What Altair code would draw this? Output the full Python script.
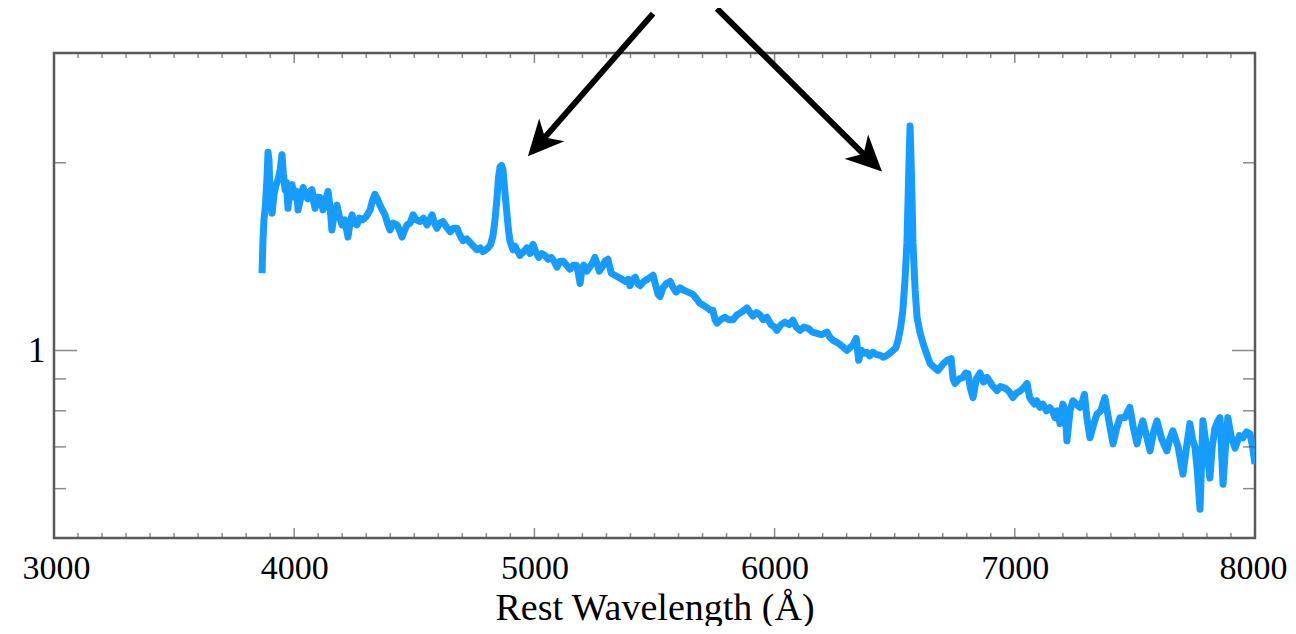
import altair as alt
import pandas as pd

# ---- spectrum (rest wavelength in Angstrom, normalised flux) ----
wavelength = [
    3866, 3870, 3874, 3880, 3887, 3891, 3895, 3899, 3908, 3916, 3924, 3933, 3942, 3949, 3955, 3962,
    3968, 3974, 3982, 3991, 3997, 4003, 4010, 4016, 4025, 4037, 4045, 4057, 4066, 4074, 4080, 4087,
    4096, 4107, 4114, 4120, 4130, 4141, 4149, 4157, 4166, 4178, 4188, 4199, 4210, 4224, 4232, 4241,
    4250, 4261, 4272, 4286, 4300, 4316, 4326, 4336, 4346, 4357, 4367, 4378, 4388, 4399, 4412, 4428,
    4438, 4449, 4460, 4470, 4482, 4495, 4508, 4524, 4538, 4553, 4563, 4574, 4584, 4594, 4606, 4619,
    4633, 4649, 4663, 4678, 4690, 4703, 4718, 4732, 4746, 4761, 4774, 4786, 4797, 4807, 4818, 4828,
    4836, 4844, 4851, 4857, 4863, 4869, 4877, 4886, 4892, 4898, 4905, 4911, 4919, 4927,
    4940, 4955, 4969, 4982, 4994, 5005, 5018, 5030, 5044, 5057, 5070, 5082, 5094, 5107, 5120, 5134,
    5148, 5162, 5175, 5183, 5190, 5197, 5205, 5218, 5230, 5241, 5252, 5260, 5270, 5282, 5294, 5306,
    5320, 5335, 5350, 5365, 5380, 5390, 5398, 5410, 5420, 5430, 5440, 5455, 5470, 5482, 5494, 5505,
    5515, 5523, 5535, 5550, 5565, 5578, 5590, 5606, 5620, 5640, 5660, 5675, 5689, 5705, 5720, 5732,
    5743, 5752, 5760, 5775, 5793, 5810, 5827, 5843, 5860, 5873, 5885, 5898, 5910, 5925, 5939, 5952,
    5968, 5985, 6000, 6010, 6027, 6043, 6060, 6076, 6090, 6106, 6122, 6140, 6158, 6176, 6195, 6218,
    6230, 6243, 6260, 6275, 6288, 6301, 6314, 6326, 6340, 6350, 6362, 6373, 6384, 6396, 6409, 6424,
    6439, 6453, 6468, 6480, 6493, 6505, 6514, 6525, 6534, 6543, 6551, 6558, 6564, 6570, 6576, 6585,
    6593, 6605, 6618, 6632, 6647, 6663, 6680, 6700, 6718, 6735, 6743, 6751, 6768, 6784, 6795, 6805,
    6815, 6826, 6840, 6855, 6870, 6884, 6905, 6926, 6940, 6959, 6975, 6992, 7008, 7021, 7036, 7051,
    7062, 7071, 7082, 7092, 7105, 7117, 7132, 7146, 7157, 7167, 7178, 7188, 7200, 7210, 7217, 7230,
    7242, 7256, 7271, 7282, 7290, 7300, 7313, 7328, 7342, 7358, 7375, 7392, 7409, 7424, 7438, 7458,
    7479, 7494, 7509, 7520, 7533, 7548, 7563, 7578, 7592, 7612, 7633, 7645, 7658, 7680, 7700, 7715,
    7729, 7740, 7750, 7760, 7771, 7777, 7783, 7798, 7812, 7822, 7833, 7845, 7854, 7860, 7867, 7877,
    7887, 7900, 7917, 7935, 7950, 7965, 7979, 7990, 8000,
]
flux = [
    1.33, 1.50, 1.62, 1.70, 1.90, 2.08, 2.02, 1.80, 1.66, 1.78, 1.84, 1.88, 1.95, 2.06, 1.92, 1.81,
    1.86, 1.69, 1.80, 1.845, 1.79, 1.76, 1.80, 1.68, 1.74, 1.825, 1.78, 1.75, 1.80, 1.81, 1.74, 1.69,
    1.76, 1.76, 1.72, 1.68, 1.74, 1.80, 1.70, 1.56, 1.65, 1.71, 1.64, 1.59, 1.62, 1.52, 1.60, 1.65,
    1.60, 1.59, 1.63, 1.62, 1.64, 1.68, 1.74, 1.78, 1.75, 1.71, 1.68, 1.65, 1.60, 1.56, 1.60, 1.59,
    1.56, 1.52, 1.56, 1.59, 1.60, 1.65, 1.62, 1.61, 1.63, 1.59, 1.62, 1.65, 1.60, 1.57, 1.60, 1.61,
    1.58, 1.55, 1.57, 1.57, 1.53, 1.50, 1.51, 1.49, 1.47, 1.45, 1.46, 1.44, 1.45, 1.46, 1.48, 1.53,
    1.62, 1.75, 1.90, 1.97, 1.98, 1.95, 1.80, 1.65, 1.56, 1.50, 1.47, 1.45, 1.47, 1.45,
    1.42, 1.44, 1.46, 1.43, 1.48, 1.44, 1.41, 1.43, 1.42, 1.40, 1.41, 1.39, 1.36, 1.39, 1.39, 1.37,
    1.35, 1.37, 1.37, 1.33, 1.28, 1.34, 1.37, 1.34, 1.36, 1.38, 1.41, 1.38, 1.34, 1.36, 1.39, 1.40,
    1.33, 1.32, 1.31, 1.30, 1.29, 1.30, 1.27, 1.30, 1.31, 1.28, 1.27, 1.29, 1.30, 1.31, 1.32, 1.27,
    1.23, 1.22, 1.26, 1.28, 1.29, 1.26, 1.24, 1.26, 1.25, 1.24, 1.23, 1.21, 1.19, 1.18, 1.17, 1.16,
    1.16, 1.12, 1.106, 1.12, 1.13, 1.12, 1.12, 1.14, 1.15, 1.16, 1.17, 1.15, 1.135, 1.15, 1.14, 1.12,
    1.13, 1.10, 1.09, 1.077, 1.10, 1.11, 1.10, 1.118, 1.09, 1.077, 1.09, 1.085, 1.07, 1.065, 1.06, 1.07,
    1.05, 1.038, 1.03, 1.02, 1.01, 1.00, 1.01, 1.02, 1.045, 0.964, 1.00, 0.99, 0.993, 0.98, 0.993, 0.985,
    0.982, 0.975, 0.982, 0.99, 1.00, 1.01, 1.038, 1.09, 1.16, 1.30, 1.49, 1.90, 2.29, 1.90, 1.49, 1.25,
    1.13, 1.07, 1.026, 0.99, 0.953, 0.94, 0.928, 0.95, 0.964, 0.97, 0.90, 0.885, 0.90, 0.905, 0.92, 0.918,
    0.87, 0.84, 0.90, 0.92, 0.89, 0.905, 0.88, 0.862, 0.875, 0.87, 0.86, 0.84, 0.855, 0.86, 0.87, 0.885,
    0.84, 0.83, 0.82, 0.83, 0.81, 0.82, 0.80, 0.809, 0.80, 0.78, 0.80, 0.763, 0.82, 0.80, 0.716, 0.80,
    0.83, 0.82, 0.81, 0.83, 0.85, 0.78, 0.724, 0.76, 0.79, 0.80, 0.84, 0.77, 0.708, 0.75, 0.78, 0.78,
    0.81, 0.75, 0.708, 0.74, 0.771, 0.73, 0.69, 0.74, 0.771, 0.72, 0.69, 0.72, 0.743, 0.70, 0.633, 0.70,
    0.763, 0.72, 0.70, 0.64, 0.556, 0.65, 0.771, 0.70, 0.624, 0.70, 0.75, 0.77, 0.78, 0.70, 0.61, 0.70,
    0.78, 0.73, 0.697, 0.73, 0.724, 0.74, 0.735, 0.70, 0.657,
]

# ---- axes ----
x_domain = [3000, 8000]
y_domain = [0.5, 3.0]
x_labels = [3000, 4000, 5000, 6000, 7000, 8000]
y_labels = [1]
x_minor = [v for v in range(3000, 8001, 100) if v % 1000 != 0]
y_minor = [0.6, 0.7, 0.8, 0.9, 2.0]
y_major = [1.0]

# ---- arrows pointing at the two emission lines ----
arrow_x_start = [5494, 5760]
arrow_y_start = [3.47, 3.535]
arrow_x_end = [5007, 6409]
arrow_y_end = [2.117, 1.995]
arrow_x_tip = [4973, 6447]
arrow_y_tip = [2.048, 1.937]
arrow_angle = [222, 134]

SERIF = "Liberation Serif"
FRAME = "#5a5a5a"
LINE = "#169cff"

xscale = alt.Scale(domain=x_domain, nice=False, zero=False, padding=0)
yscale = alt.Scale(type="log", domain=y_domain, nice=False, padding=0)

xaxis = alt.Axis(values=x_labels, title="Rest Wavelength (Å)", ticks=False, domain=False, grid=False,
                 labelFont=SERIF, labelFontSize=34, labelColor="#000", labelPadding=13,
                 labelFlush=True, labelFlushOffset=32, labelOverlap=False,
                 titleFont=SERIF, titleFontSize=38, titleFontWeight="normal", titleColor="#000",
                 titlePadding=4, format="d")
yaxis = alt.Axis(values=y_labels, title=None, ticks=False, domain=False, grid=False, labelFlush=False,
                 labelFont=SERIF, labelFontSize=35, labelColor="#000", labelPadding=9, format="d")

X = alt.X("wavelength:Q", scale=xscale, axis=xaxis)
Y = alt.Y("flux:Q", scale=yscale, axis=yaxis)

spec = pd.DataFrame({"wavelength": wavelength, "flux": flux})
line = alt.Chart(spec).mark_line(color=LINE, strokeWidth=7, strokeJoin="round", clip=True).encode(
    x=X, y=Y, order="wavelength:Q")

# ticks (inward) on all four sides
bx_minor = pd.DataFrame({"wavelength": x_minor})
bx_major = pd.DataFrame({"wavelength": x_labels})


def xticks(df, yv, size):
    return alt.Chart(df).mark_tick(orient="vertical", color=FRAME, thickness=1.5, size=size, clip=True).encode(
        x=X, y=Y).transform_calculate(flux=str(yv))


def yticks(vals, xv, size):
    df = pd.DataFrame({"flux": vals})
    return alt.Chart(df).mark_tick(orient="horizontal", color=FRAME, thickness=1.5, size=size, clip=True).encode(
        x=X, y=Y).transform_calculate(wavelength=str(xv))


tick_layers = [
    xticks(bx_minor, y_domain[0], 10), xticks(bx_major, y_domain[0], 20),
    xticks(bx_minor, y_domain[1], 10), xticks(bx_major, y_domain[1], 20),
    yticks(y_minor, x_domain[0], 24), yticks(y_major, x_domain[0], 46),
    yticks(y_minor, x_domain[1], 24), yticks(y_major, x_domain[1], 46),
]

arrows = pd.DataFrame({
    "wavelength": arrow_x_start, "flux": arrow_y_start,
    "wavelength2": arrow_x_end, "flux2": arrow_y_end,
})
arrow_lines = alt.Chart(arrows).mark_rule(color="#000", strokeWidth=6, clip=False).encode(
    x=X, y=Y, x2="wavelength2:Q", y2="flux2:Q")

heads = pd.DataFrame({"wavelength": arrow_x_tip, "flux": arrow_y_tip, "angle": arrow_angle})
arrow_heads = alt.Chart(heads).mark_point(
    shape="M0,0 L1,2.1 L0,1.5 L-1,2.1 Z", filled=True, color="#000", opacity=1, size=1156, clip=False
).encode(x=X, y=Y, angle=alt.Angle("angle:Q", scale=None))

chart = alt.layer(line, *tick_layers, arrow_lines, arrow_heads).properties(
    width=1201, height=485,
    padding={"left": 46, "top": 45, "right": 33, "bottom": 88},
    autosize=alt.AutoSizeParams(type="none"),
).configure_view(stroke=FRAME, strokeWidth=2.5)

chart.save("out.html", embed_options={"renderer": "svg", "actions": False})
